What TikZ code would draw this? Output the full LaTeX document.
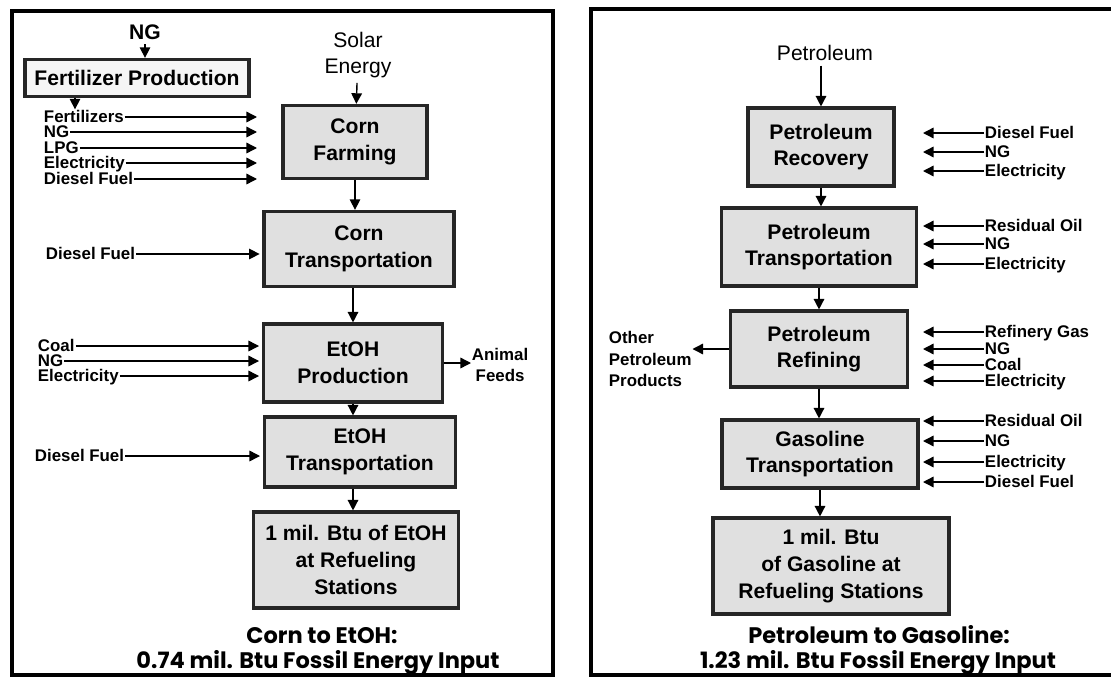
\documentclass[tikz,border=0pt]{standalone}
\usepackage{fontspec}
\setmainfont{Liberation Sans}
\newfontfamily\titlefont{Poppins}
\usetikzlibrary{positioning}
\usetikzlibrary{arrows.meta}
\tikzset{>={Triangle[length=7.5pt,width=7.5pt]}}
\tikzset{stage/.style={draw=black!85,line width=2.2pt,fill=black!12,align=center,inner sep=2pt,font=\fontsize{15}{19}\selectfont\bfseries}}
\tikzset{inp/.style={inner sep=0.5pt,text height=8.5pt,text depth=1pt,font=\fontsize{12}{15.5}\selectfont\bfseries}}
\tikzset{flow/.style={->,line width=1pt}}
\tikzset{panel/.style={line width=3.5pt}}
\tikzset{ttl/.style={inner sep=0pt,text height=11.5pt,text depth=3pt,font=\titlefont\fontsize{16}{20}\selectfont\bfseries}}

\begin{document}
\begin{tikzpicture}[x=0.025cm,y=-0.025cm]
\useasboundingbox (0,0) rectangle (1111,677);
\draw[panel] (12,11) rectangle (553,675);
\draw[panel] (591,9) rectangle (1125,675);

% corn to EtOH
\node[font=\fontsize{15}{18}\selectfont\bfseries] (ngsrc) at (145,32) {NG};
\node[stage,fill=black!4,minimum width=5.6cm,minimum height=0.93cm,inner sep=1pt] (fert) at (137,78) {Fertilizer Production};
\draw[flow] (ngsrc.south) -- (ngsrc.south |- fert.north);

\node[inp,anchor=west] (fert1) at (43,117) {Fertilizers};
\node[inp,anchor=west] (fert2) at (43,132) {NG};
\node[inp,anchor=west] (fert3) at (43,148) {LPG};
\node[inp,anchor=west] (fert4) at (43,163) {Electricity};
\node[inp,anchor=west] (fert5) at (43,179) {Diesel Fuel};
\coordinate (fin) at (257,0);
\coordinate (fo) at (75,0);
\draw[flow] (fert.south -| fo) -- (fo |- fert1.north);
\foreach \n in {1,...,5}
  \draw[flow] (fert\n.east) -- (fert\n.east -| fin);

\node[font=\fontsize{15}{18.5}\selectfont,align=center] (solar) at (358,55) {Solar\\Energy};
\node[stage,minimum width=3.6cm,minimum height=1.83cm] (farm) at (355,142) {Corn\\Farming};
\draw[flow] (solar) -- (farm);

\node[stage,minimum width=4.75cm,minimum height=1.88cm] (ctrans) at (359,249) {Corn\\Transportation};
\draw[flow] (farm.south) -- (farm.south |- ctrans.north);
\node[inp,anchor=west] (cdsl) at (45,254) {Diesel Fuel};
\draw[flow,shorten >=2pt] (cdsl.east) -- (cdsl.east -| ctrans.west);

\node[stage,minimum width=4.48cm,minimum height=1.95cm] (eprod) at (353,363) {EtOH\\Production};
\draw[flow] (ctrans.south -| eprod.north) -- (eprod.north);
\node[inp,anchor=west] (pin1) at (37,346) {Coal};
\node[inp,anchor=west] (pin2) at (37,361) {NG};
\node[inp,anchor=west] (pin3) at (37,376) {Electricity};
\foreach \n in {1,2,3}
  \draw[flow,shorten >=2pt] (pin\n.east) -- (pin\n.east -| eprod.west);
\node[inp,text height=,text depth=,align=center,anchor=west] (feeds) at (471,365) {Animal\\Feeds};
\draw[flow] (eprod.east) -- (eprod.east -| feeds.west);

\node[stage,minimum width=4.78cm,minimum height=1.75cm] (etrans) at (360,452) {EtOH\\Transportation};
\draw[flow] (eprod.south) -- (eprod.south |- etrans.north);
\node[inp,anchor=west] (edsl) at (34,456) {Diesel Fuel};
\draw[flow,shorten >=2pt] (edsl.east) -- (edsl.east -| etrans.west);

\node[stage,minimum width=5.13cm,minimum height=2.4cm] (efinal) at (356,560) {1 mil. Btu of EtOH\\at Refueling\\Stations};
\draw[flow] (etrans.south -| eprod.south) -- (eprod.south |- efinal.north);

\node[ttl] (ttlA) at (322,638) {Corn to EtOH:};
\node[ttl] (subA) at (318,663) {0.74 mil. Btu Fossil Energy Input};

% petroleum to gasoline
\coordinate (rtip) at (923,0);
\node[font=\fontsize{15}{18}\selectfont] (petro) at (825,53) {Petroleum};
\node[stage,minimum width=3.65cm,minimum height=1.95cm] (precov) at (821,147) {Petroleum\\Recovery};
\draw[flow] (petro.south -| precov.north) -- (precov.north);
\node[inp,anchor=west] (rin1) at (984,133) {Diesel Fuel};
\node[inp,anchor=west] (rin2) at (984,152) {NG};
\node[inp,anchor=west] (rin3) at (984,171) {Electricity};
\foreach \n in {1,2,3}
  \draw[flow] (rin\n.west) -- (rin\n.west -| rtip);

\node[stage,minimum width=4.88cm,minimum height=1.95cm] (ptrans) at (819,247) {Petroleum\\Transportation};
\draw[flow] (precov.south) -- (precov.south |- ptrans.north);
\node[inp,anchor=west] (tin1) at (984,226) {Residual Oil};
\node[inp,anchor=west] (tin2) at (984,244) {NG};
\node[inp,anchor=west] (tin3) at (984,264) {Electricity};
\foreach \n in {1,2,3}
  \draw[flow] (tin\n.west) -- (tin\n.west -| rtip);

\node[stage,minimum width=4.43cm,minimum height=1.9cm] (prefin) at (819,349) {Petroleum\\Refining};
\draw[flow] (ptrans.south -| prefin.north) -- (prefin.north);
\node[inp,anchor=west] (fin1) at (984,332) {Refinery Gas};
\node[inp,anchor=west] (fin2) at (984,349) {NG};
\node[inp,anchor=west] (fin3) at (984,365) {Coal};
\node[inp,anchor=west] (fin4) at (984,381) {Electricity};
\foreach \n in {1,...,4}
  \draw[flow] (fin\n.west) -- (fin\n.west -| rtip);
\node[inp,text height=,text depth=,align=left,anchor=west] (other) at (608,359) {Other\\Petroleum\\Products};
\draw[flow] (prefin.west) -- (prefin.west -| other.east);

\node[stage,minimum width=4.9cm,minimum height=1.7cm] (gtrans) at (820,454) {Gasoline\\Transportation};
\draw[flow] (prefin.south) -- (prefin.south |- gtrans.north);
\node[inp,anchor=west] (gin1) at (984,421) {Residual Oil};
\node[inp,anchor=west] (gin2) at (984,441) {NG};
\node[inp,anchor=west] (gin3) at (984,462) {Electricity};
\node[inp,anchor=west] (gin4) at (984,482) {Diesel Fuel};
\foreach \n in {1,...,4}
  \draw[flow] (gin\n.west) -- (gin\n.west -| rtip);

\node[stage,minimum width=5.9cm,minimum height=2.4cm] (gfinal) at (831,566) {1 mil. Btu\\of Gasoline at\\Refueling Stations};
\draw[flow] (gtrans.south) -- (gtrans.south |- gfinal.north);

\node[ttl] (ttlB) at (879,638) {Petroleum to Gasoline:};
\node[ttl] (subB) at (878,663) {1.23 mil. Btu Fossil Energy Input};
\end{tikzpicture}
\end{document}
